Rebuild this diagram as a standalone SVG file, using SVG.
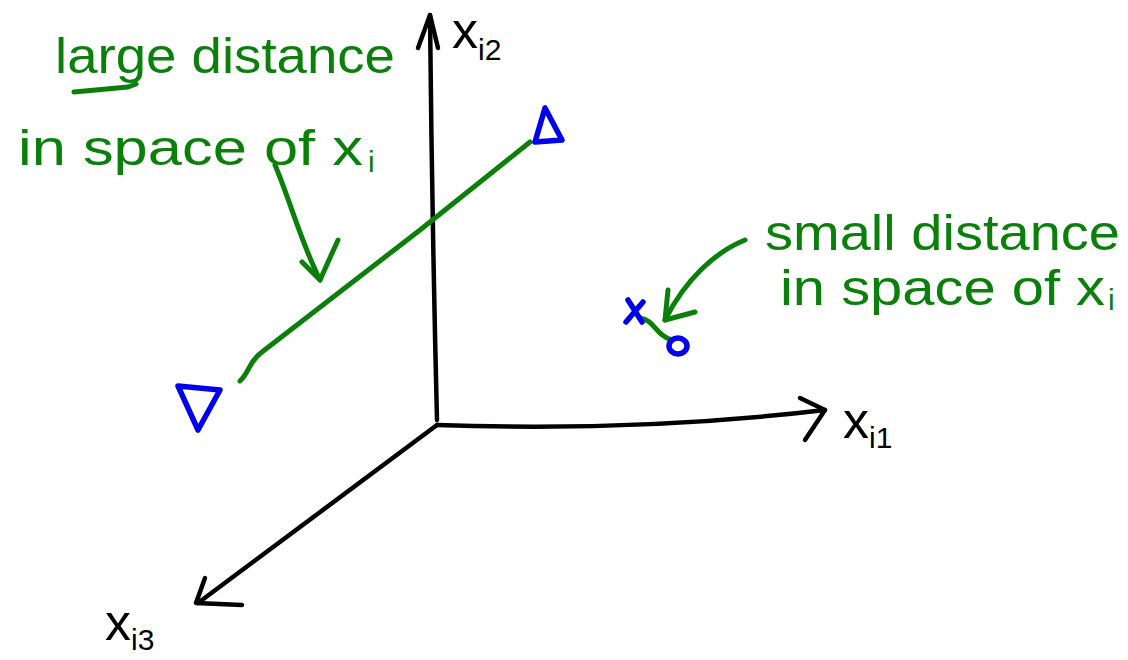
<svg xmlns="http://www.w3.org/2000/svg" width="1128" height="660" viewBox="0 0 1128 660">
<style>
.ax{fill:none;stroke:#000;stroke-width:4.5;stroke-linecap:round;stroke-linejoin:round}
.gr{fill:none;stroke:#0a800a;stroke-width:5;stroke-linecap:round;stroke-linejoin:round}
.bl{fill:none;stroke:#0000ee;stroke-width:5.5;stroke-linecap:round;stroke-linejoin:round}
.gt{fill:#0a800a;font-family:"Liberation Sans",sans-serif;font-size:50px}
.bt{fill:#000;font-family:"Liberation Sans",sans-serif;font-size:52px}
.sub{font-size:30px}
</style>
<rect width="1128" height="660" fill="#fff"/>
<g id="connectors">
<path class="ax" d="M437,420 Q432,220 430,15"/>
<path class="ax" d="M418,48 L430,15 L438,48"/>
<path class="ax" d="M437,425 Q640,432 825,410"/>
<path class="ax" d="M800,398 L825,410 L805,440"/>
<path class="ax" d="M437,425 L198,603"/>
<path class="ax" d="M205,578 L196,603 L242,605"/>
<path class="gr" d="M240,381 C250,372 248,362 262,352 L420,230 L530,142"/>
<path class="gr" d="M275,165 C290,200 300,240 320,280"/>
<path class="gr" d="M302,262 L320,280 L338,240"/>
<path class="gr" d="M745,240 C715,252 685,280 665,320"/>
<path class="gr" d="M668,290 L665,320 L695,312"/>
<path class="gr" d="M640,318 C655,320 655,335 672,340"/>
<path class="gr" d="M74,92 L128,87 L136,84"/>
</g>
<g id="triangle-up"><path class="bl" d="M545,108 L535,142 L562,140 Z"/></g>
<g id="triangle-down"><path class="bl" d="M178,386 L220,390 L198,430 Z"/></g>
<g id="point-x"><path class="bl" d="M628,300 L642,322 M643,302 L626,322"/></g>
<g id="point-o"><ellipse class="bl" cx="678" cy="346" rx="9" ry="8"/></g>
<g id="label-large">
<text class="gt" x="55" y="73" textLength="340" lengthAdjust="spacingAndGlyphs">large distance</text>
<text class="gt" x="18" y="165" textLength="345" lengthAdjust="spacingAndGlyphs">in space of x</text>
<text class="gt sub" x="368" y="172">i</text>
</g>
<g id="label-small">
<text class="gt" x="765" y="250" textLength="355" lengthAdjust="spacingAndGlyphs">small distance</text>
<text class="gt" x="780" y="305" textLength="325" lengthAdjust="spacingAndGlyphs">in space of x</text>
<text class="gt sub" x="1108" y="310">i</text>
</g>
<g id="axis-x2"><text class="bt" x="452" y="48">x<tspan class="sub" dy="12">i2</tspan></text></g>
<g id="axis-x1"><text class="bt" x="843" y="438">x<tspan class="sub" dy="10">i1</tspan></text></g>
<g id="axis-x3"><text class="bt" x="105" y="640">x<tspan class="sub" dy="10">i3</tspan></text></g>
</svg>
